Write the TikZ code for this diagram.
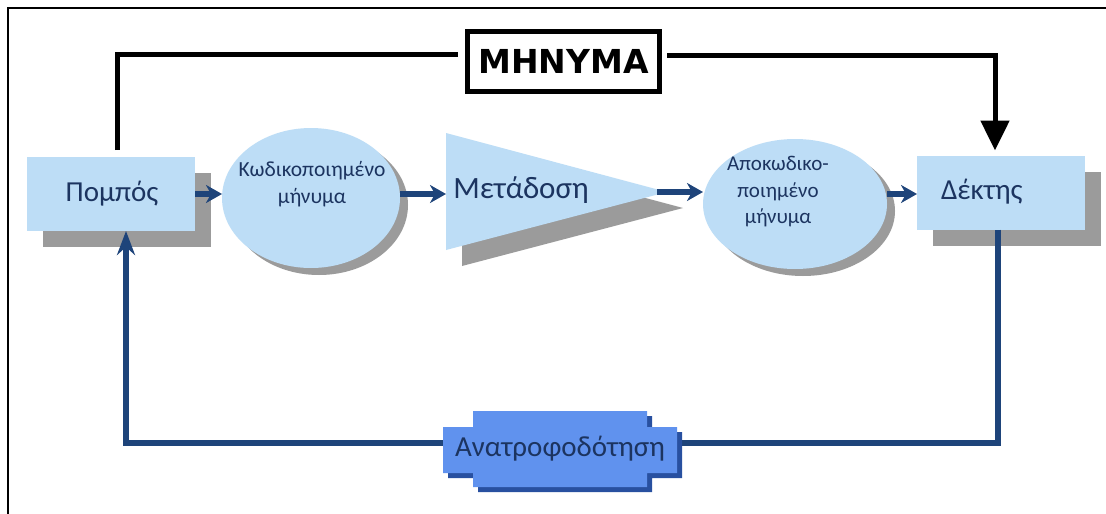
\documentclass[tikz,border=0pt]{standalone}
\usepackage{fontspec}
\setmainfont{Carlito}
\newfontfamily\msgfont{DejaVu Sans}
\usetikzlibrary{arrows.meta,shadows,shapes.geometric}
\definecolor{boxblue}{RGB}{189,221,246}
\definecolor{txtblue}{RGB}{28,52,96}
\definecolor{arrblue}{RGB}{30,68,122}
\definecolor{fbblue}{RGB}{96,146,238}
\definecolor{fbshade}{RGB}{40,80,160}
\definecolor{shadowgray}{RGB}{155,155,155}
\begin{document}
\begin{tikzpicture}[x=1pt,y=-1pt,
  every node/.style={inner sep=0pt, outer sep=0pt},
  blk/.style={fill=boxblue, minimum width=168pt, minimum height=74pt,
    drop shadow={shadow xshift=16pt, shadow yshift=-16pt, fill=shadowgray, opacity=1}},
  oval/.style={ellipse, fill=boxblue,
    drop shadow={shadow xshift=8pt, shadow yshift=-7pt, fill=shadowgray, opacity=1}},
  big/.style={font=\fontsize{29}{33}\selectfont, text=txtblue},
  small/.style={font=\fontsize{21.5}{27}\selectfont, text=txtblue, align=center},
  flow/.style={draw=arrblue, line width=6pt, -{Stealth[length=16pt,width=18pt,inset=5pt]}},
  back/.style={draw=arrblue, line width=6pt, -{Stealth[length=24pt,width=18pt,inset=8pt]}},
  msgline/.style={draw=black, line width=5pt},
]
\useasboundingbox (0,0) rectangle (1106,514);
\fill[white] (0,0) rectangle (1106,514);
% outer frame (top and left edges)
\draw[line width=2.5pt] (8,514) -- (8,8) -- (1106,8);

% sender and receiver boxes
\node[blk] (pompos) at (111,194) {};
\node[big] (pomposT) at (112,194) {Πομπός};
\node[blk] (dektis) at (1001,192.5) {};
\node[big, anchor=west] (dektisT) at (941,192) {Δέκτης};

% encoded / decoded message ellipses
\node[oval, minimum width=178pt, minimum height=140pt] (kod) at (311,198) {};
\node[small] (kodT) at (312,184) {Κωδικοποιημένο\\μήνυμα};
\node[oval, minimum width=184pt, minimum height=130pt] (apo) at (795,204) {};
\node[small, font=\fontsize{21}{26.5}\selectfont] (apoT) at (778,192) {Αποκωδικο-\\ποιημένο\\μήνυμα};

% transmission wedge
\coordinate (wA) at (446,133);
\coordinate (wB) at (446,250);
\coordinate (wC) at (667,192);
\fill[shadowgray] (462,149) -- (462,266) -- (683,208) -- cycle;
\fill[boxblue] (wA) -- (wB) -- (wC) -- cycle;
\node[big, font=\fontsize{31}{35}\selectfont] (wT) at (521,190) {Μετάδοση};

% main flow arrows
\draw[flow] (pompos.east) -- (kod.west |- pompos.east);
\draw[flow] (kod.east |- pompos.east) -- (wA |- pompos.east);
\draw[flow] ([xshift=-10pt]wC) -- (apo.west |- wC);
\draw[flow] (apo.east |- pompos.east) -- (dektis.west |- pompos.east);

% feedback loop
\coordinate (fbR) at (998,443);
\coordinate (fbL) at (126,443);
\draw[back] (dektis.south -| fbR) -- (fbR) -- (fbL) -- (pompos.south -| fbL);
\fill[fbshade] (478,416) -- (652,416) -- (652,432) -- (682,432) -- (682,478) -- (652,478)
  -- (652,492) -- (478,492) -- (478,478) -- (448,478) -- (448,432) -- (478,432) -- cycle;
\fill[fbblue] (473,411) -- (647,411) -- (647,427) -- (677,427) -- (677,473) -- (647,473)
  -- (647,487) -- (473,487) -- (473,473) -- (443,473) -- (443,427) -- (473,427) -- cycle;
\node[big] (fbT) at (560,449) {Ανατροφοδότηση};

% message path
\node[draw, line width=5pt, minimum width=192pt, minimum height=60pt,
  font=\msgfont\bfseries\fontsize{33}{36}\selectfont] (msg) at (563.5,61.5) {ΜΗΝΥΜΑ};
\coordinate (mL) at (117,54);
\coordinate (mR) at (995,55);
\draw[msgline, shorten <=7pt, shorten >=9.5pt] (pompos.north -| mL) -- (mL) -- (msg.west |- mL);
\draw[msgline, shorten <=7.5pt, shorten >=5pt, -{Triangle[length=30pt,width=28pt]}]
  (msg.east |- mR) -- (mR) -- (dektis.north -| mR);
\end{tikzpicture}
\end{document}
